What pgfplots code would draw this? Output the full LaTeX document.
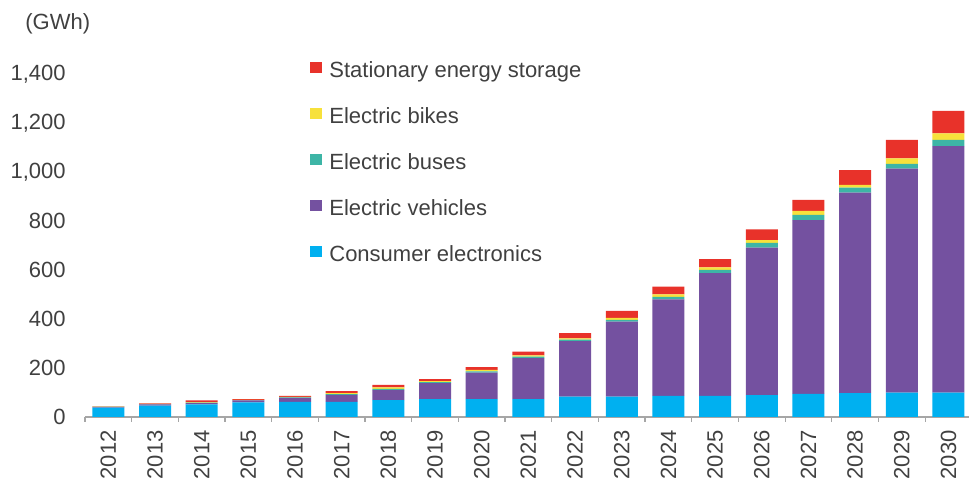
\documentclass[border=0pt]{standalone}
\usepackage{pgfplots}
\pgfplotsset{compat=1.18}
\usepackage{pgfplotstable}
\usepackage{fontspec}
\setmainfont{Liberation Sans}
\definecolor{cCE}{HTML}{00B0F0}
\definecolor{cEV}{HTML}{7451A0}
\definecolor{cBus}{HTML}{3DB5A6}
\definecolor{cBike}{HTML}{F7E13B}
\definecolor{cSES}{HTML}{E8322A}
\definecolor{txt}{HTML}{404040}
\definecolor{axgray}{HTML}{A6A6A6}

\pgfplotstableread{
x ce ev bus bike ses
0 38 3 0.5 0.5 1.5
1 46 6 1 1 1.5
2 52 5 2 2 7
3 60 8 1 1 3
4 62 16 2 2 4
5 62 28 3 4 9
6 69 41 5 6 10
7 73 65 4 4 9
8 73 108 5 6 12
9 73 167 6 6 15
10 83 227 6 5 21
11 83 306 7 9 28
12 86 394 10 10 32
13 86 501 13 11 33
14 89 602 20 11 44
15 94 710 21 16 45
16 97 819 20 11 61
17 99 915 19 23 75
18 99 1007 25 27 91
}\data

\pgfplotsset{sq legend/.style={legend image code/.code={\fill[##1] (0pt,-0.5pt) rectangle (6pt,4.7pt);}}}

\begin{document}
\begin{tikzpicture}
\begin{axis}[
  at={(42.5pt,32pt)}, anchor=south west,
  scale only axis, width=442pt, height=171.5pt,
  ybar stacked, bar width=16pt,
  xmin=-0.5, xmax=18.44, ymin=0, ymax=1400,
  axis x line*=bottom, axis y line*=left,
  y axis line style={draw=none},
  x axis line style={draw=axgray, line width=0.8pt},
  xtick={0,...,18},
  xticklabels={2012,2013,2014,2015,2016,2017,2018,2019,2020,2021,2022,2023,2024,2025,2026,2027,2028,2029,2030},
  minor xtick={-0.5,0.5,...,18.5},
  ytick={0,200,...,1400},
  major tick length=0pt, minor tick length=2.5pt, tick align=outside,
  tick style={draw=axgray, line width=0.6pt},
  /pgf/number format/assume math mode=true,
  yticklabel style={/pgf/number format/1000 sep={,}, anchor=east, inner sep=0pt},
  tick label style={font=\fontsize{11}{13}\selectfont, text=txt},
  xticklabel style={rotate=90, anchor=east, inner sep=0pt},
  xticklabel shift=6.5pt, yticklabel shift=9.5pt,
  reverse legend,
  legend cell align=left,
  legend style={at={(0.2545,1.039)}, anchor=north west, draw=none, fill=none,
    inner sep=0pt, row sep=12.5pt, column sep=3.5pt,
    font=\fontsize{11}{13}\selectfont, text=txt,
    nodes={inner sep=0pt, text height=8pt, text depth=2.5pt}},
]
\addplot[sq legend, fill=cCE, draw=none] table[x=x,y=ce]{\data};
\addlegendentry{Consumer electronics}
\addplot[sq legend, fill=cEV, draw=none] table[x=x,y=ev]{\data};
\addlegendentry{Electric vehicles}
\addplot[sq legend, fill=cBus, draw=none] table[x=x,y=bus]{\data};
\addlegendentry{Electric buses}
\addplot[sq legend, fill=cBike, draw=none] table[x=x,y=bike]{\data};
\addlegendentry{Electric bikes}
\addplot[sq legend, fill=cSES, draw=none] table[x=x,y=ses]{\data};
\addlegendentry{Stationary energy storage}
\end{axis}
\node[anchor=west, inner sep=0pt, text=txt, font=\fontsize{11}{13}\selectfont] at (12.5pt,228.5pt) {(GWh)};
\pgfresetboundingbox
\path[use as bounding box] (0,0) rectangle (484.5pt,240.5pt);
\end{tikzpicture}
\end{document}
